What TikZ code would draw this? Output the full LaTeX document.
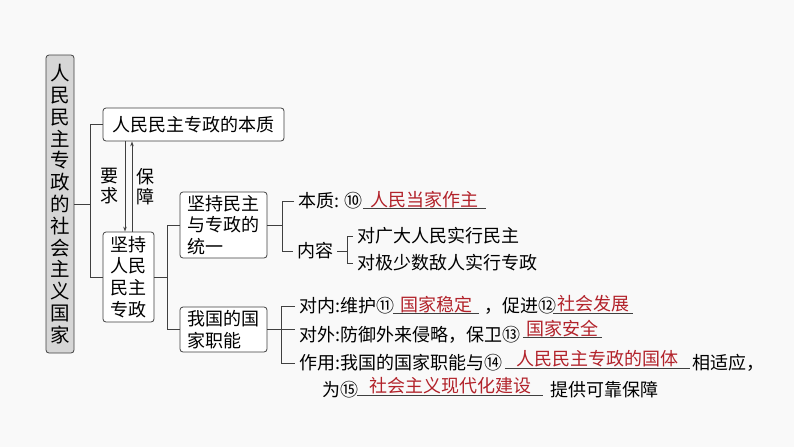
\documentclass[tikz,border=0pt]{standalone}
\usepackage{fontspec}
\setmainfont{Noto Sans CJK SC}
\usepackage{tikz}
\usetikzlibrary{
  arrows.meta,positioning,calc
}
\definecolor{ansred}{RGB}{178,34,42}
\definecolor{linegray}{RGB}{64,64,64}
\definecolor{pagegray}{RGB}{249,249,249}
\definecolor{titlegray}{RGB}{214,214,214}
\tikzset{
  box/.style={draw=linegray, fill=white, rounded corners=3pt, line width=0.8pt, inner sep=0pt,
    font=\fontsize{18pt}{21.7pt}\selectfont},
  titlebox/.style={box, fill=titlegray, minimum width=28pt, minimum height=298pt, align=center,
    font=\fontsize{19.5pt}{21.8pt}\selectfont},
  txt/.style={inner xsep=4pt, inner ysep=2.5pt, text height=13pt, text depth=0pt,
    font=\fontsize{18pt}{22pt}\selectfont},
  ans/.style={txt, text=ansred, inner xsep=0pt, minimum width=#1},
  link/.style={draw=linegray, line width=0.8pt},
  uline/.style={draw=linegray, line width=0.6pt},
  tip/.style={-{Stealth[length=5pt,width=3.5pt]}},
  side/.style={midway, align=center, font=\fontsize{18pt}{20pt}\selectfont},
}
\begin{document}
\begin{tikzpicture}[x=1pt,y=-1pt]
    \fill[pagegray] (0,0) rectangle (794,447);
    \useasboundingbox (0,0) rectangle (794,447);
    % left column
    \node[titlebox] (state) at (60,204) {人\\民\\民\\主\\专\\政\\的\\社\\会\\主\\义\\国\\家};
    \node[box, minimum width=181pt, minimum height=33pt] (essence) at (193.5,124.5) {人民民主专政的本质};
    \node[box, minimum width=51pt, minimum height=90pt, align=center] (uphold) at (128.5,277) {坚持\\人民\\民主\\专政};
    \draw[link,tip] ([xshift=-3.5pt]uphold.north |- essence.south) -- ([xshift=-3.5pt]uphold.north)
      node[side, left, inner xsep=6pt] {要\\求};
    \draw[link,tip] ([xshift=3.5pt]uphold.north) -- ([xshift=3.5pt]uphold.north |- essence.south)
      node[side, right, inner xsep=4pt] {保\\障};
    \coordinate (j1) at ($(state.east)+(16,0)$);
    \draw[link] (state.east) -- (j1);
    \draw[link] (essence.west) -| (j1) |- (uphold.west);
    % second column
    \node[box, text width=72pt, inner xsep=7.5pt, minimum height=66pt, align=left] (unity) at (223.5,225) {坚持民主\\与专政的\\统一};
    \node[box, text width=72pt, inner xsep=7.5pt, minimum height=45pt, align=left] (func) at (223.5,329.5) {我国的国\\家职能};
    \coordinate (j2) at ($(uphold.east)+(13,0)$);
    \draw[link] (uphold.east) -- (j2);
    \draw[link] (unity.west) -| (j2) |- (func.west);
    % unity of democracy and dictatorship
    \node[txt, anchor=west] (nature) at (294,201) {本质: ⑩};
    \node[ans=123pt] (a10) at (424.5,199.5) {人民当家作主};
    \node[txt, anchor=west] (content) at (293,251) {内容};
    \node[txt, anchor=west] (dem) at (353,236) {对广大人民实行民主};
    \node[txt, anchor=west] (dict) at (353,263) {对极少数敌人实行专政};
    \coordinate (j3) at ($(unity.east)+(15,0)$);
    \coordinate (j4) at ($(content.east)+(10,0)$);
    \draw[link] (unity.east) -- (j3);
    \draw[link] (nature.west) -| (j3) |- (content.west);
    \draw[link] (content.east) -- (j4);
    \draw[link] (dem.west) -| (j4) |- (dict.west);
    % state functions
    \node[txt, anchor=west] (inner) at (295,306) {对内:维护⑪};
    \node[ans=86pt] (a11) at (436,304.5) {国家稳定};
    \node[txt, anchor=west] (inner2) at (480,306) {，促进⑫};
    \node[ans=80pt] (a12) at (593,304) {社会发展};
    \node[txt, anchor=west] (outer) at (295,335) {对外:防御外来侵略，保卫⑬};
    \node[ans=79pt] (a13) at (562.5,328.5) {国家安全};
    \node[txt, anchor=west] (role) at (295,363) {作用:我国的国家职能与⑭};
    \node[ans=185pt] (a14) at (597.5,359) {人民民主专政的国体};
    \node[txt, anchor=west] (role2) at (688,363) {相适应，};
    \node[txt, anchor=west] (base) at (318,390) {为⑮};
    \node[ans=186pt] (a15) at (450,386) {社会主义现代化建设};
    \node[txt, anchor=west] (base2) at (546,390) {提供可靠保障};
    \coordinate (j5) at ($(func.east)+(14,0)$);
    \draw[link] (func.east) -- (func.east -| outer.west);
    \draw[link] (inner.west) -| (j5) |- (role.west);
    \foreach \a in {a10,a11,a12,a13,a14,a15}
      \draw[uline] (\a.south west) -- (\a.south east);
\end{tikzpicture}
\end{document}
